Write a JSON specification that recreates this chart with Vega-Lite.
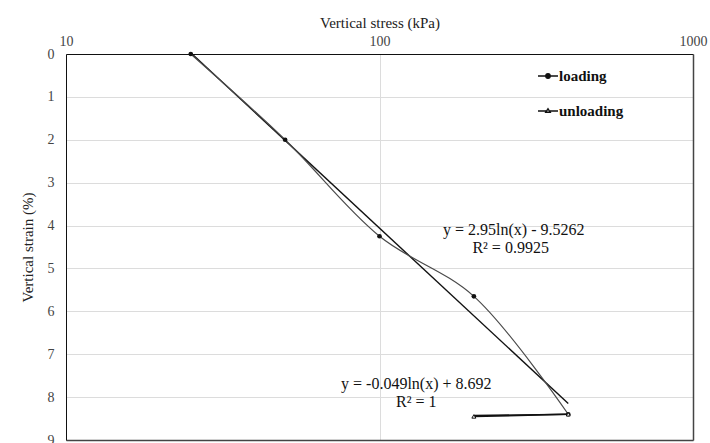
{
  "$schema": "https://vega.github.io/schema/vega-lite/v6.json",
  "width": 627,
  "height": 386,
  "autosize": {"type": "none"},
  "padding": {"left": 66, "top": 54, "right": 17, "bottom": 3},
  "background": "white",
  "config": {
    "font": "Liberation Serif",
    "view": {"stroke": null},
    "axis": {"labelFont": "Liberation Serif", "titleFont": "Liberation Serif", "labelFontSize": 14, "titleFontSize": 15, "labelColor": "#444", "titleColor": "#222", "titleFontWeight": "normal", "gridColor": "#dcdcdc", "ticks": false, "domainColor": "#111"},
    "legend": {"labelFont": "Liberation Serif"}
  },
  "resolve": {"axis": {"x": "independent", "y": "independent"}},
  "datasets": {
    "obs": [
      {"stress": 25, "strain": 0, "series": "loading"},
      {"stress": 50, "strain": 2, "series": "loading"},
      {"stress": 100, "strain": 4.25, "series": "loading"},
      {"stress": 200, "strain": 5.65, "series": "loading"},
      {"stress": 400, "strain": 8.4, "series": "loading"},
      {"stress": 400, "strain": 8.4, "series": "unloading"},
      {"stress": 200, "strain": 8.45, "series": "unloading"}
    ],
    "trend": [
      {"stress": 25, "strain": -0.03, "fit": "load"},
      {"stress": 400, "strain": 8.15, "fit": "load"},
      {"stress": 200, "strain": 8.43, "fit": "unload"},
      {"stress": 400, "strain": 8.4, "fit": "unload"}
    ],
    "notes": [
      {"stress": 268, "strain": 4.1, "label": "y = 2.95ln(x) - 9.5262"},
      {"stress": 262, "strain": 4.52, "label": "R² = 0.9925"},
      {"stress": 131, "strain": 7.69, "label": "y = -0.049ln(x) + 8.692"},
      {"stress": 131, "strain": 8.11, "label": "R² = 1"}
    ]
  },
  "layer": [
    {
      "data": {"name": "trend"},
      "mark": {"type": "line", "color": "#111", "strokeWidth": 1.4},
      "encoding": {
        "x": {"field": "stress", "type": "quantitative", "scale": {"type": "log", "domain": [10, 1000]},
          "axis": {"orient": "top", "title": "Vertical stress (kPa)", "values": [10, 100, 1000], "format": "d", "labelPadding": 6, "titlePadding": 4, "labelFlush": false}},
        "y": {"field": "strain", "type": "quantitative", "scale": {"domain": [0, 9], "reverse": true, "nice": false},
          "axis": {"title": "Vertical strain  (%)", "values": [0,1,2,3,4,5,6,7,8,9], "labelPadding": 12, "titlePadding": 12}},
        "detail": {"field": "fit"}
      }
    },
    {
      "data": {"name": "obs"},
      "transform": [{"filter": "datum.series === 'loading'"}],
      "mark": {"type": "line", "color": "#4a4a4a", "strokeWidth": 1.2, "interpolate": "catmull-rom"},
      "encoding": {
        "x": {"field": "stress", "type": "quantitative", "axis": {"orient": "bottom", "labels": false, "grid": false, "title": null, "domainColor": "#444", "domainWidth": 1.5}},
        "y": {"field": "strain", "type": "quantitative", "axis": {"orient": "right", "labels": false, "grid": false, "title": null, "domainColor": "#444", "domainWidth": 1.5}}
      }
    },
    {
      "data": {"name": "obs"},
      "transform": [{"filter": "datum.series === 'unloading'"}],
      "mark": {"type": "line", "color": "#111", "strokeWidth": 1.7},
      "encoding": {
        "x": {"field": "stress", "type": "quantitative", "axis": null},
        "y": {"field": "strain", "type": "quantitative", "axis": null}
      }
    },
    {
      "data": {"name": "obs"},
      "transform": [{"filter": "datum.series === 'loading'"}],
      "mark": {"type": "point", "shape": "circle", "filled": true, "opacity": 1, "color": "#111", "size": 22},
      "encoding": {
        "x": {"field": "stress", "type": "quantitative", "axis": null},
        "y": {"field": "strain", "type": "quantitative", "axis": null}
      }
    },
    {
      "data": {"name": "obs"},
      "transform": [{"filter": "datum.series === 'unloading'"}],
      "mark": {"type": "point", "shape": "triangle-up", "opacity": 1, "fill": "white", "stroke": "#111", "strokeWidth": 1, "size": 16},
      "encoding": {
        "x": {"field": "stress", "type": "quantitative", "axis": null},
        "y": {"field": "strain", "type": "quantitative", "axis": null}
      }
    },
    {
      "data": {"name": "obs"},
      "transform": [{"filter": "datum.stress < 0"}],
      "mark": {"type": "point", "opacity": 1, "strokeWidth": 1.4, "stroke": "#111"},
      "encoding": {
        "x": {"field": "stress", "type": "quantitative", "axis": null},
        "y": {"field": "strain", "type": "quantitative", "axis": null},
        "shape": {"field": "series", "type": "nominal", "title": null, "scale": {"domain": ["loading", "unloading"], "range": ["M-1,0H1M0.22,0A0.22,0.22,0,1,1,-0.22,0A0.22,0.22,0,1,1,0.22,0Z", "M-1,0H-0.2M0.2,0H1M-0.22,0.12L0,-0.22L0.22,0.12Z"]}},
        "fill": {"field": "series", "type": "nominal", "title": null, "scale": {"domain": ["loading", "unloading"], "range": ["#111", "white"]},
          "legend": {"orient": "none", "legendX": 471, "legendY": 11, "title": null, "labelFont": "Liberation Serif", "labelFontSize": 15, "labelFontWeight": "bold", "labelColor": "#111", "rowPadding": 16, "symbolSize": 400, "labelOffset": 0, "symbolStrokeColor": "#111", "symbolStrokeWidth": 1.4, "symbolOpacity": 1}}
      }
    },
    {
      "data": {"name": "notes"},
      "mark": {"type": "text", "font": "Liberation Serif", "fontSize": 16, "color": "#111", "align": "center", "baseline": "middle"},
      "encoding": {
        "x": {"field": "stress", "type": "quantitative", "axis": null},
        "y": {"field": "strain", "type": "quantitative", "axis": null},
        "text": {"field": "label"}
      }
    }
  ]
}
